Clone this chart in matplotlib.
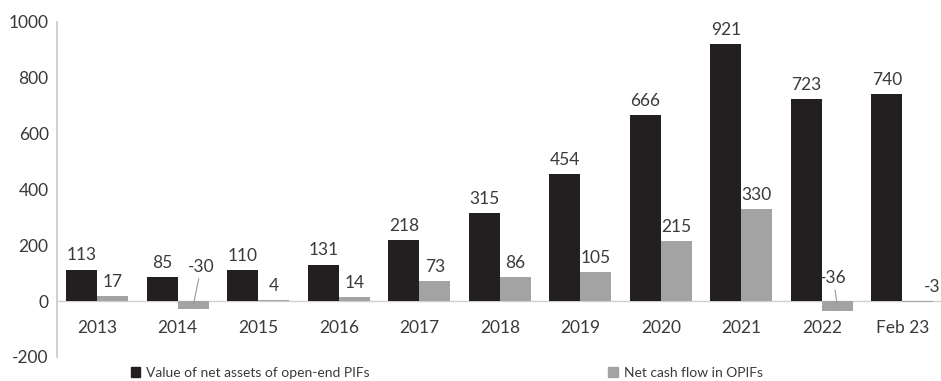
import matplotlib.pyplot as plt
import numpy as np
from matplotlib.patches import Patch

plt.rcParams['font.family'] = ['Lato', 'DejaVu Sans']

# Data (billion roubles)
periods = ['2013', '2014', '2015', '2016', '2017', '2018', '2019',
           '2020', '2021', '2022', 'Feb 23']
net_assets = [113, 85, 110, 131, 218, 315, 454, 666, 921, 723, 740]
net_flow = [17, -30, 4, 14, 73, 86, 105, 215, 330, -36, -3]
y_ticks = [-200, 0, 200, 400, 600, 800, 1000]

dark = '#231f20'
grey = '#a3a3a3'
text_c = '#3a3a3a'

fig = plt.figure(figsize=(9.41, 3.81), dpi=100)
ax = fig.add_axes([57 / 941, 0.063, 1 - 57 / 941, 0.88])

x = np.arange(len(periods))
w = 0.385
ax.bar(x - w / 2, net_assets, width=w, color=dark, zorder=3)
ax.bar(x + w / 2, net_flow, width=w, color=grey, zorder=3)

ax.set_xlim(-0.5, 10.48)
ax.set_ylim(-200, 1000)
ax.axhline(0, color='#d0d0d0', lw=1, zorder=2)

for side in ['top', 'right', 'bottom']:
    ax.spines[side].set_visible(False)
ax.spines['left'].set_color('#c8c8c8')
ax.spines['left'].set_linewidth(1.2)

ax.set_yticks(y_ticks)
ax.set_yticklabels([str(v) for v in y_ticks], fontsize=12.5, color=text_c)
ax.tick_params(axis='y', length=0, pad=6)
ax.set_xticks([])

# category labels sit just under the zero line
for xi, lab in zip(x, periods):
    ax.text(xi, -95, lab, ha='center', va='center', fontsize=12.5, color=text_c)

# value labels
for xi, v in zip(x, net_assets):
    ax.text(xi - w / 2, v + 22, str(v), ha='center', va='bottom',
            fontsize=12.5, color=text_c)

# negative flows get a label lifted above the axis with a short leader
leader_pos = {-30: (0.10, 95), -36: (-0.05, 55)}
for xi, v in zip(x, net_flow):
    bx = xi + w / 2
    if v in leader_pos:
        dx, ly = leader_pos[v]
        ax.annotate(str(v), xy=(bx, v / 2), xytext=(bx + dx, ly),
                    ha='center', va='bottom', fontsize=12.5, color=text_c,
                    arrowprops=dict(arrowstyle='-', color='#9a9a9a', lw=0.8,
                                    shrinkA=1, shrinkB=0))
    elif v >= 0:
        ax.text(bx, v + 22, str(v), ha='center', va='bottom',
                fontsize=12.5, color=text_c)
    else:
        ax.text(bx + 0.18, 22, str(v), ha='center', va='bottom',
                fontsize=12.5, color=text_c)

handles = [Patch(color=dark), Patch(color=grey)]
labels = ['Value of net assets of open-end PIFs', 'Net cash flow in OPIFs']
fig.legend(handles, labels, loc='center left', bbox_to_anchor=(118 / 941, 0.022),
           ncol=2, frameon=False, handlelength=0.7,
           handleheight=0.7, handletextpad=0.4, columnspacing=17.2,
           labelcolor=text_c, prop={'family': ['Lato', 'DejaVu Sans'], 'size': 10})

fig.savefig('out.png', dpi=100)
plt.close(fig)
